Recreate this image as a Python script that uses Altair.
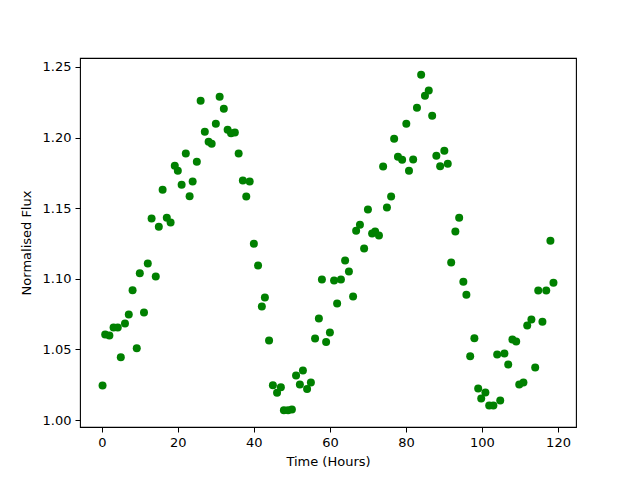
import altair as alt
import pandas as pd

time_hours = [0.2, 0.9, 2.0, 3.1, 4.2, 5.0, 6.1, 7.1, 8.1, 9.2, 10.0, 11.1, 12.1, 13.1, 14.2, 15.0,
              16.0, 17.1, 18.1, 19.2, 20.0, 21.0, 22.1, 23.1, 23.9, 25.0, 26.0, 27.1, 28.1, 28.9,
              30.0, 31.0, 32.1, 33.1, 34.0, 35.0, 36.0, 37.1, 38.0, 38.9, 40.0, 41.1, 42.1, 42.9,
              44.0, 45.0, 46.1, 47.1, 47.9, 49.0, 50.0, 51.1, 52.1, 52.9, 54.0, 55.0, 56.1, 57.1,
              57.9, 59.0, 60.0, 61.1, 61.9, 62.9, 64.0, 65.0, 66.1, 66.9, 67.9, 69.0, 70.0, 71.1,
              71.9, 72.9, 74.0, 75.0, 76.1, 76.9, 77.9, 79.0, 80.1, 80.8, 81.9, 82.9, 84.0, 85.0,
              86.0, 86.9, 88.0, 89.0, 90.1, 91.0, 91.9, 93.0, 94.0, 95.1, 95.9, 96.9, 98.0, 99.0,
              99.8, 100.9, 101.9, 103.0, 104.0, 104.8, 105.9, 106.9, 108.0, 109.0, 109.8, 110.9,
              111.9, 113.0, 114.0, 114.8, 115.9, 116.9, 118.0, 118.8]

flux = [1.0245, 1.0606, 1.0599, 1.0655, 1.0655, 1.0445, 1.0683, 1.0747, 1.0919, 1.0509, 1.1039,
        1.0761, 1.1108, 1.1426, 1.1016, 1.1369, 1.1631, 1.1433, 1.1398, 1.1801, 1.1765, 1.1666,
        1.1886, 1.1584, 1.1688, 1.1829, 1.2260, 1.2041, 1.1970, 1.1956, 1.2098, 1.2289, 1.2204,
        1.2055, 1.2031, 1.2036, 1.1886, 1.1695, 1.1582, 1.1688, 1.1249, 1.1094, 1.0804, 1.0867,
        1.0563, 1.0247, 1.0193, 1.0233, 1.0070, 1.0070, 1.0075, 1.0316, 1.0252, 1.0351, 1.0221,
        1.0266, 1.0577, 1.0719, 1.0995, 1.0553, 1.0620, 1.0988, 1.0825, 1.0995, 1.1129, 1.1051,
        1.0874, 1.1341, 1.1383, 1.1214, 1.1490, 1.1320, 1.1334, 1.1306, 1.1794, 1.1504, 1.1582,
        1.1992, 1.1864, 1.1843, 1.2098, 1.1765, 1.1845, 1.2211, 1.2444, 1.2296, 1.2333, 1.2154,
        1.1871, 1.1796, 1.1907, 1.1815, 1.1115, 1.1334, 1.1433, 1.0980, 1.0888, 1.0452, 1.0579,
        1.0224, 1.0153, 1.0195, 1.0103, 1.0103, 1.0464, 1.0139, 1.0471, 1.0393, 1.0570, 1.0556,
        1.0252, 1.0266, 1.0669, 1.0712, 1.0372, 1.0917, 1.0697, 1.0917, 1.1270, 1.0973]

x_ticks = [0, 20, 40, 60, 80, 100, 120]
y_ticks = [1.00, 1.05, 1.10, 1.15, 1.20, 1.25]

df = pd.DataFrame({"t": time_hours, "f": flux})

xmin, xmax = min(time_hours), max(time_hours)
ymin, ymax = min(flux), max(flux)
xm = (xmax - xmin) * 0.05
ym = (ymax - ymin) * 0.05

font = "DejaVu Sans"

chart = alt.Chart(df).mark_circle(color="#008000", opacity=1, size=64).encode(
    x=alt.X("t:Q", title="Time (Hours)",
            scale=alt.Scale(domain=[xmin - xm, xmax + xm], nice=False, zero=False),
            axis=alt.Axis(values=x_ticks, format="d", grid=False, domain=False,
                          tickSize=5, tickColor="black", labelColor="black",
                          labelFontSize=13, titleFontSize=13, labelFont=font, titleFont=font,
                          titleFontWeight="normal", titleColor="black", labelPadding=4,
                          titlePadding=6, labelFlush=False)),
    y=alt.Y("f:Q", title="Normalised Flux",
            scale=alt.Scale(domain=[ymin - ym, ymax + ym], nice=False, zero=False),
            axis=alt.Axis(values=y_ticks, format=".2f", grid=False, domain=False,
                          tickSize=5, tickColor="black", labelColor="black",
                          labelFontSize=13, titleFontSize=13, labelFont=font, titleFont=font,
                          titleFontWeight="normal", titleColor="black", labelPadding=4,
                          titlePadding=9, labelFlush=False)),
).properties(
    width=496, height=369,
    autosize=alt.AutoSizeParams(type="none"),
    padding={"left": 72, "top": 50, "right": 56, "bottom": 44},
).configure_view(stroke="black", strokeWidth=1.1)

chart.save("out.html", embed_options={"renderer": "svg", "actions": False})
